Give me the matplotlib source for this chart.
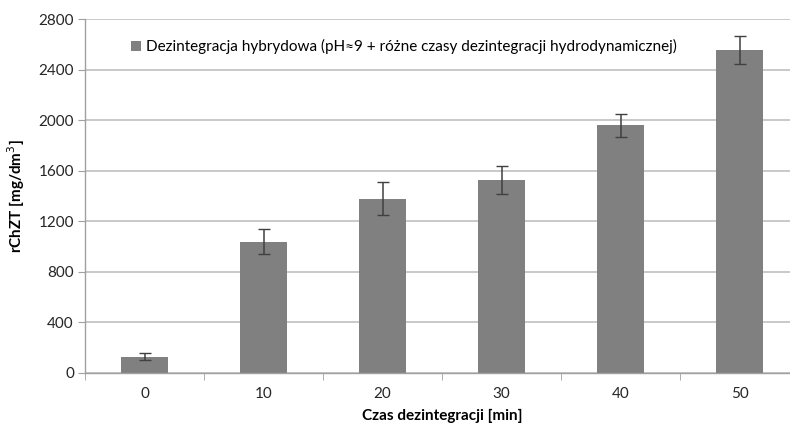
import numpy as np
import matplotlib
matplotlib.use('Agg')
import matplotlib.pyplot as plt

czas = ['0', '10', '20', '30', '40', '50']
rchzt = [130, 1040, 1380, 1525, 1960, 2555]
blad = [28, 100, 130, 113, 91, 110]
yticks = [0, 400, 800, 1200, 1600, 2000, 2400, 2800]

plt.rcParams['font.family'] = ['Lato', 'DejaVu Sans']

fig = plt.figure(figsize=(7.9, 4.26), dpi=100)
ax = fig.add_axes([85/790, 53/426, 714/790, 354/426])

x = np.arange(len(czas))
ax.bar(x, rchzt, width=0.4, color='#808080', zorder=2,
       label='Dezintegracja hybrydowa (pH≈9 + różne czasy dezintegracji hydrodynamicznej)')
ax.errorbar(x, rchzt, yerr=blad, fmt='none', ecolor='#404040', elinewidth=1.1,
            capsize=4.5, capthick=1.0, zorder=3)

ax.set_xlim(-0.5, len(czas) - 0.5)
ax.set_ylim(0, 2800)
ax.set_yticks(yticks)
ax.set_yticklabels([str(v) for v in yticks], fontsize=11, color='#262626')
ax.set_xticks(x)
ax.set_xticklabels(czas, fontsize=11, color='#262626')
ax.set_xticks(np.arange(-0.5, len(czas)), minor=True)
ax.tick_params(axis='x', which='major', length=0, pad=10)
ax.tick_params(axis='x', which='minor', length=5, color='#a0a0a0', direction='out')
ax.tick_params(axis='y', length=5, color='#a0a0a0', direction='out', pad=3)
ax.yaxis.grid(True, color='#c0c0c0', linewidth=1.2, zorder=0)
ax.set_axisbelow(True)

for s in ['top', 'right']:
    ax.spines[s].set_visible(False)
for s in ['left', 'bottom']:
    ax.spines[s].set_color('#a0a0a0')
    ax.spines[s].set_linewidth(1.0)

ax.set_ylabel('rChZT [mg/dm$^3$]', fontsize=11, fontweight='bold', labelpad=8)
ax.set_xlabel('Czas dezintegracji [min]', fontsize=11, fontweight='bold', labelpad=6)

ax.legend(loc='center left', bbox_to_anchor=(0.064, 0.921), frameon=False,
          fontsize=11, handlelength=0.7, handleheight=0.7, handletextpad=0.3,
          borderpad=0, borderaxespad=0)

fig.savefig('out.png', dpi=100)
